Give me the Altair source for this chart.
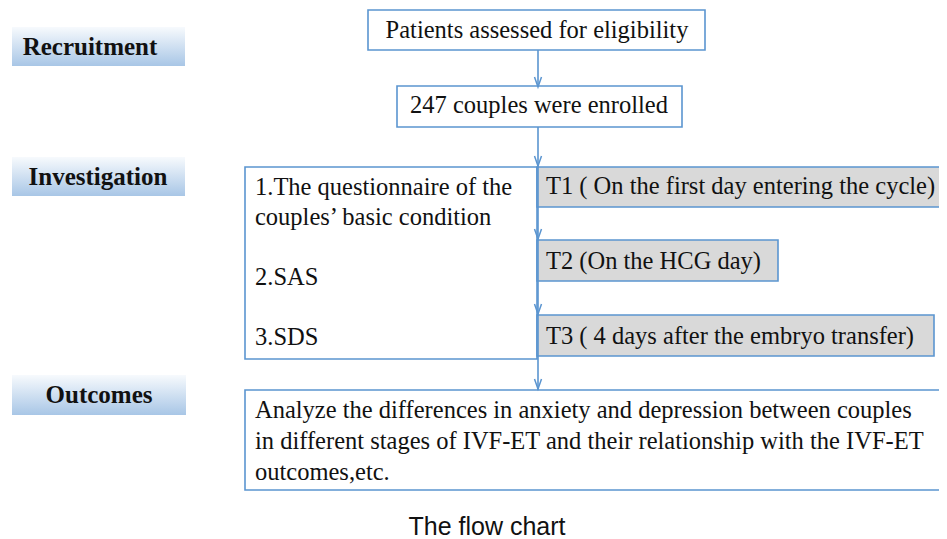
import altair as alt
import pandas as pd

# ---- content ----
stage_labels = ["Recruitment", "Investigation", "Outcomes"]
flow_texts = ["Patients  assessed for eligibility", "247 couples were enrolled"]
investigation_items = ["1.The questionnaire of the", "couples\u2019 basic condition", "2.SAS", "3.SDS"]
timepoints = ["T1 ( On the first day entering the cycle)", "T2 (On the HCG day)",
              "T3 ( 4 days after the embryo transfer)"]
outcome_lines = ["Analyze the differences in anxiety and depression between  couples",
                 "in different stages of IVF-ET and their relationship with the IVF-ET",
                 "outcomes,etc."]
caption = "The flow chart"

# ---- layout (pixel coordinates of the 947x539 page) ----
stage_x0, stage_x1 = [12, 12, 12], [185, 185, 186]
stage_y0, stage_y1 = [27, 157, 375], [66, 196, 415]
stage_tx, stage_ty = [90, 98, 99], [47, 177, 395]

white_x0, white_x1 = [368, 397, 245, 245], [705, 682, 537, 980]
white_y0, white_y1 = [10, 86, 167, 390], [50, 127, 359, 490]
flow_tx, flow_ty = [537, 539], [31, 106]

gray_x0, gray_x1 = [537, 537, 537], [945, 778, 934]
gray_y0, gray_y1 = [167, 240, 315], [207, 281, 356]
gray_tx, gray_ty = [546, 546, 546], [187, 262, 337]

inv_tx, inv_ty = [255, 255, 255, 255], [188, 218, 278, 338]
out_tx, out_ty = [255, 255, 255], [411, 442, 473]

line_x, line_y0, line_y1 = [538, 538], [50, 127], [87, 390]
arrow_x, arrow_y = [538, 538, 538, 538, 538], [87, 166, 239, 314, 389]

cap_x, cap_y = 487, 527

W, H = 931, 531
xs = alt.Scale(domain=[8, 8 + W], range=[0, W])
ys = alt.Scale(domain=[8, 8 + H], range=[0, H])

BLUE = "#5b95d0"
GRAY = "#d9d9d9"
SERIF = "Liberation Serif, Tinos, Times New Roman, DejaVu Serif, serif"
FS = 24.5


def X(f="x"):
    return alt.X(f"{f}:Q", scale=xs, axis=None)


def Y(f="y"):
    return alt.Y(f"{f}:Q", scale=ys, axis=None)


grad = alt.LinearGradient(
    gradient="linear",
    stops=[alt.GradientStop(color="#f7fafd", offset=0),
           alt.GradientStop(color="#a8c6e6", offset=1)],
    x1=0, x2=0, y1=0, y2=1,
)

stage_df = pd.DataFrame({"x": stage_x0, "x2": stage_x1, "y": stage_y0, "y2": stage_y1,
                         "tx": stage_tx, "ty": stage_ty, "t": stage_labels})
stage_rect = alt.Chart(stage_df).mark_rect(fill=grad).encode(
    x=X(), x2="x2:Q", y=Y(), y2="y2:Q")
stage_text = alt.Chart(stage_df).mark_text(
    font=SERIF, fontSize=25, fontWeight="bold", color="#111111", align="center", baseline="middle"
).encode(x=X("tx"), y=Y("ty"), text="t:N")

white_df = pd.DataFrame({"x": white_x0, "x2": white_x1, "y": white_y0, "y2": white_y1})
white_rect = alt.Chart(white_df).mark_rect(fill="white", stroke=BLUE, strokeWidth=1.6).encode(
    x=X(), x2="x2:Q", y=Y(), y2="y2:Q")

gray_df = pd.DataFrame({"x": gray_x0, "x2": gray_x1, "y": gray_y0, "y2": gray_y1,
                        "tx": gray_tx, "ty": gray_ty, "t": timepoints})
gray_rect = alt.Chart(gray_df).mark_rect(fill=GRAY, stroke=BLUE, strokeWidth=1.6).encode(
    x=X(), x2="x2:Q", y=Y(), y2="y2:Q")
gray_text = alt.Chart(gray_df).mark_text(
    font=SERIF, fontSize=FS, color="#111111", align="left", baseline="middle"
).encode(x=X("tx"), y=Y("ty"), text="t:N")

flow_df = pd.DataFrame({"x": flow_tx, "y": flow_ty, "t": flow_texts})
flow_text = alt.Chart(flow_df).mark_text(
    font=SERIF, fontSize=FS, color="#111111", align="center", baseline="middle"
).encode(x=X(), y=Y(), text="t:N")

inv_df = pd.DataFrame({"x": inv_tx, "y": inv_ty, "t": investigation_items})
inv_text = alt.Chart(inv_df).mark_text(
    font=SERIF, fontSize=FS, color="#111111", align="left", baseline="middle"
).encode(x=X(), y=Y(), text="t:N")

out_df = pd.DataFrame({"x": out_tx, "y": out_ty, "t": outcome_lines})
out_text = alt.Chart(out_df).mark_text(
    font=SERIF, fontSize=FS, color="#111111", align="left", baseline="middle"
).encode(x=X(), y=Y(), text="t:N")

line_df = pd.DataFrame({"x": line_x, "y": line_y0, "y2": line_y1})
lines = alt.Chart(line_df).mark_rule(color=BLUE, strokeWidth=1.6).encode(
    x=X(), y=Y(), y2="y2:Q")

arrow_df = pd.DataFrame({"x": arrow_x, "y": arrow_y})
arrows = alt.Chart(arrow_df).mark_point(
    shape="M-1.4,-4L0,0L1.4,-4", filled=False, stroke=BLUE, strokeWidth=1.5, size=25, opacity=1
).encode(x=X(), y=Y())

cap_df = pd.DataFrame({"x": [cap_x], "y": [cap_y], "t": [caption]})
cap_text = alt.Chart(cap_df).mark_text(
    font="Liberation Sans, Arial, sans-serif", fontSize=25, color="#111111",
    align="center", baseline="middle"
).encode(x=X(), y=Y(), text="t:N")

chart = alt.layer(
    stage_rect, stage_text, white_rect, gray_rect, lines, arrows,
    flow_text, inv_text, gray_text, out_text, cap_text
).properties(
    width=W, height=H, padding=0, autosize=alt.AutoSizeParams(type="none"),
    background="white"
).configure_view(stroke=None)

chart.save("out.html", embed_options={"renderer": "svg", "actions": False})
